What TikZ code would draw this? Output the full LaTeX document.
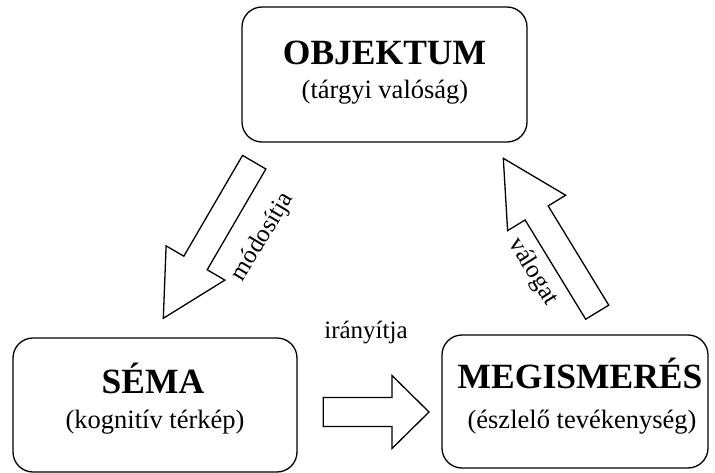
\documentclass[tikz,border=0pt]{standalone}
\usepackage{fontspec}
\setmainfont{Liberation Serif}
\usetikzlibrary{calc}
\begin{document}
\begin{tikzpicture}[x=1pt,y=-1pt,
  box/.style={draw,line width=1.3pt,rounded corners=20pt,inner sep=0pt},
  ttl/.style={font=\fontsize{35.5}{40}\selectfont\bfseries,anchor=base,inner sep=0pt},
  sub/.style={font=\fontsize{26.5}{30}\selectfont,anchor=base,inner sep=0pt},
  lbl/.style={font=\fontsize{25}{30}\selectfont,inner sep=0pt},
  blk/.style={draw,line width=1.3pt,line join=miter,fill=white}]
\useasboundingbox (0,0) rectangle (715,473);

% boxes
\node[box,minimum width=285pt,minimum height=135pt] (obj) at (384.5,74.5) {};
\node[ttl] (objT) at (384.5,65) {OBJEKTUM};
\node[sub] (objS) at (385,99) {(tárgyi valóság)};

\node[box,minimum width=284pt,minimum height=134pt] (sema) at (155,405) {};
\node[ttl] (semaT) at (153,393) {SÉMA};
\node[sub] (semaS) at (155,428) {(kognitív térkép)};

\node[box,minimum width=266pt,minimum height=133pt] (meg) at (575,401.5) {};
\node[ttl] (megT) at (580,388) {MEGISMERÉS};
\node[sub] (megS) at (582,428) {(észlelő tevékenység)};

% left arrow (módosítja)
\coordinate (lT) at (254.2,162.2);
\coordinate (lP) at (163.3,318.3);
\coordinate (lB) at ($(lP)!64pt!(lT)$);
\draw[blk] ($(lT)!13.5pt!90:(lP)$) -- ($(lB)!13.5pt!90:(lP)$) -- ($(lB)!34pt!90:(lP)$) -- (lP)
  -- ($(lB)!34pt!-90:(lP)$) -- ($(lB)!13.5pt!-90:(lP)$) -- ($(lT)!13.5pt!-90:(lP)$) -- cycle;

% right arrow (válogat)
\coordinate (rT) at (597.2,312.2);
\coordinate (rP) at (503.3,158.3);
\coordinate (rB) at ($(rP)!64pt!(rT)$);
\draw[blk] ($(rT)!13.5pt!90:(rP)$) -- ($(rB)!13.5pt!90:(rP)$) -- ($(rB)!34pt!90:(rP)$) -- (rP)
  -- ($(rB)!34pt!-90:(rP)$) -- ($(rB)!13.5pt!-90:(rP)$) -- ($(rT)!13.5pt!-90:(rP)$) -- cycle;

% middle arrow (irányítja)
\coordinate (mT) at (323.3,412);
\coordinate (mP) at (429,412);
\coordinate (mB) at ($(mP)!37pt!(mT)$);
\draw[blk] ($(mT)!14.5pt!90:(mP)$) -- ($(mB)!14.5pt!90:(mP)$) -- ($(mB)!36.5pt!90:(mP)$) -- (mP)
  -- ($(mB)!36.5pt!-90:(mP)$) -- ($(mB)!14.5pt!-90:(mP)$) -- ($(mT)!14.5pt!-90:(mP)$) -- cycle;

% labels
\node[lbl,rotate=59] (lm) at (263,237) {módosítja};
\node[lbl,rotate=-58] (lv) at (533,272) {válogat};
\node[lbl,anchor=base] (li) at (366,338) {irányítja};
\end{tikzpicture}
\end{document}
